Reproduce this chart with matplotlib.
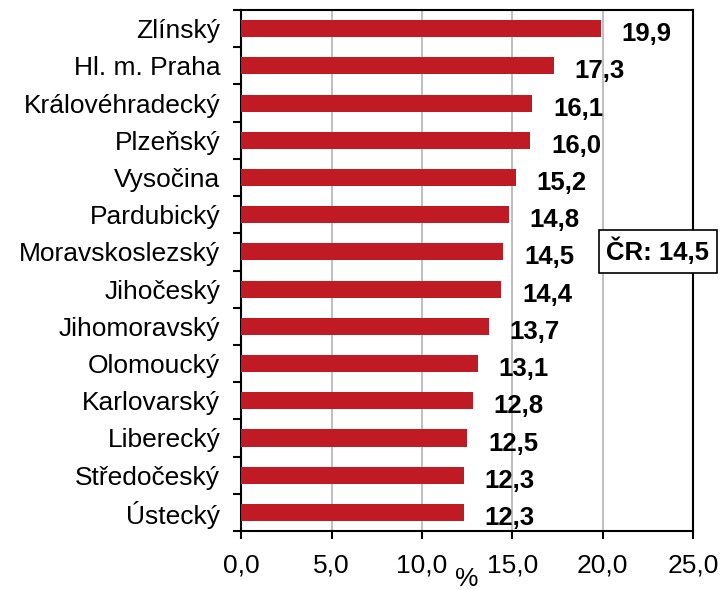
import numpy as np
import matplotlib.pyplot as plt
from matplotlib.ticker import FixedLocator

plt.rcParams['font.family'] = ['Liberation Sans', 'DejaVu Sans']

regions = ['Zlínský', 'Hl. m. Praha', 'Královéhradecký', 'Plzeňský', 'Vysočina',
           'Pardubický', 'Moravskoslezský', 'Jihočeský', 'Jihomoravský', 'Olomoucký',
           'Karlovarský', 'Liberecký', 'Středočeský', 'Ústecký']
values = [19.9, 17.3, 16.1, 16.0, 15.2, 14.8, 14.5, 14.4, 13.7, 13.1, 12.8, 12.5, 12.3, 12.3]
cr_value = 14.5
xticks = [0, 5, 10, 15, 20, 25]

fig = plt.figure(figsize=(7.22, 5.90), dpi=100)
ax = fig.add_axes([0.334, 0.100, 0.626, 0.883])

y = np.arange(len(regions))
ax.barh(y, values, height=0.46, color='#C01A24', zorder=3)

for yi, v in zip(y, values):
    ax.annotate(f'{v:.1f}'.replace('.', ','), (v, yi), xytext=(15, -4),
                textcoords='offset points', ha='left', va='center',
                fontsize=18.5, fontweight='bold')

ax.set_xlim(0, 25)
ax.set_ylim(len(regions) - 0.5, -0.5)
ax.set_xticks(xticks)
ax.set_xticklabels([f'{t:.1f}'.replace('.', ',') for t in xticks], fontsize=19)
ax.tick_params(axis='x', direction='out', length=6, width=1.5, pad=10)

ax.set_yticks(y)
ax.set_yticklabels(regions, fontsize=19)
ax.tick_params(axis='y', which='major', length=0, pad=15)
ax.yaxis.set_minor_locator(FixedLocator(np.arange(-0.5, len(regions), 1)))
ax.tick_params(axis='y', which='minor', direction='out', length=6, width=1.5)

ax.grid(axis='x', color='#c0c0c0', linewidth=1.5, zorder=0)
for s in ax.spines.values():
    s.set_linewidth(1.5)

ax.set_xlabel('%', fontsize=19, labelpad=-7)

ax.text(0.911, 0.574, f'ČR: {cr_value:.1f}'.replace('.', ','), transform=fig.transFigure,
        ha='center', va='center', fontsize=18.5, fontweight='bold', zorder=5,
        bbox=dict(boxstyle='square,pad=0.3', facecolor='white', edgecolor='black', linewidth=1.2))

fig.savefig('out.png', dpi=100)
